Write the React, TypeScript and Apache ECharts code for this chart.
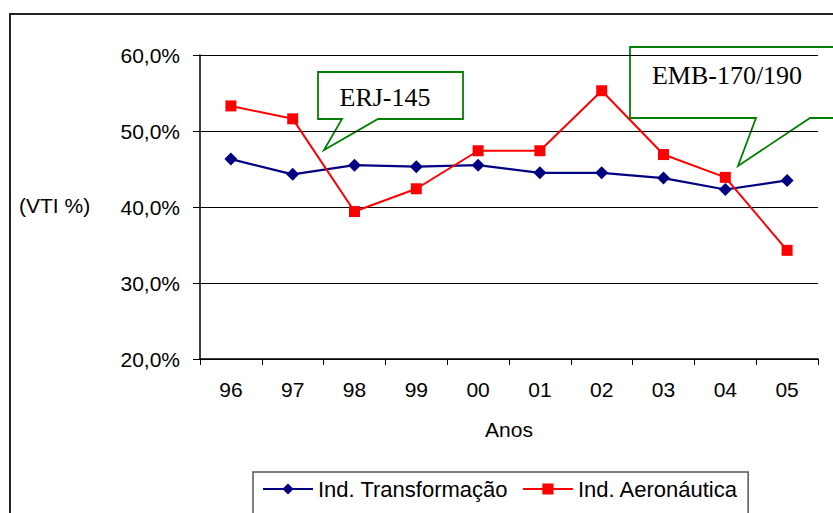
import React, { useEffect, useRef } from "react";
import * as echarts from "echarts";

const categories = ["96", "97", "98", "99", "00", "01", "02", "03", "04", "05"];
const indTransformacao = [46.3, 44.3, 45.5, 45.3, 45.5, 44.5, 44.5, 43.8, 42.3, 43.5];
const indAeronautica = [53.3, 51.6, 39.4, 42.4, 47.4, 47.4, 55.3, 46.9, 43.9, 34.3];
const seriesNames = ["Ind. Transformação", "Ind. Aeronáutica"];
const calloutLabels = ["ERJ-145", "EMB-170/190"];

export default function App() {
  const ref = useRef<HTMLDivElement>(null);
  useEffect(() => {
    document.body.style.margin = "0";
    if (!ref.current) return;
    const chart = echarts.init(ref.current, undefined, { renderer: "svg" });
    const sans = "Liberation Sans, Arial, sans-serif";
    const serif = "Liberation Serif, Times New Roman, serif";
    const green = "#008000";
    chart.setOption({
      animation: false,
      backgroundColor: "#ffffff",
      grid: { left: 200, right: 15, top: 55, bottom: 154, containLabel: false },
      xAxis: {
        type: "category",
        data: categories,
        boundaryGap: true,
        name: "Anos",
        nameLocation: "middle",
        nameGap: 60,
        nameTextStyle: { fontFamily: sans, fontSize: 21, color: "#000" },
        axisLine: { lineStyle: { color: "#000", width: 1.5 } },
        axisTick: { show: true, alignWithLabel: false, length: 6, lineStyle: { color: "#000" } },
        axisLabel: { fontFamily: sans, fontSize: 21, color: "#000", margin: 20 },
      },
      yAxis: {
        type: "value",
        min: 20,
        max: 60,
        interval: 10,
        axisLine: { show: true, lineStyle: { color: "#000", width: 1.5 } },
        axisTick: { show: true, length: 7, lineStyle: { color: "#000" } },
        axisLabel: {
          fontFamily: sans,
          fontSize: 21,
          color: "#000",
          margin: 20,
          formatter: (v: number) => v.toFixed(1).replace(".", ",") + "%",
        },
        splitLine: { show: true, lineStyle: { color: "#000", width: 1.2 } },
      },
      legend: {
        left: 253,
        top: 472,
        padding: [6, 10, 20, 9],
        itemWidth: 50,
        itemHeight: 14,
        itemGap: 14,
        borderColor: "#555",
        borderWidth: 1.5,
        textStyle: { fontFamily: sans, fontSize: 22, color: "#000" },
        data: seriesNames,
      },
      series: [
        {
          name: seriesNames[0],
          type: "line",
          data: indTransformacao,
          symbol: "diamond",
          symbolSize: 13,
          lineStyle: { color: "#000080", width: 2.2 },
          itemStyle: { color: "#000080" },
        },
        {
          name: seriesNames[1],
          type: "line",
          data: indAeronautica,
          symbol: "rect",
          symbolSize: 11,
          lineStyle: { color: "#ff0000", width: 2 },
          itemStyle: { color: "#ff0000" },
        },
      ],
      graphic: [
        {
          type: "rect",
          shape: { x: 10, y: 14, width: 840, height: 520 },
          style: { fill: "none", stroke: "#222", lineWidth: 2 },
          silent: true,
        },
        {
          type: "text",
          left: 19,
          top: 195,
          style: { text: "(VTI %)", font: `21px ${sans}`, fill: "#000" },
        },
        {
          type: "polygon",
          shape: {
            points: [
              [318, 72], [463, 72], [463, 119], [378, 119], [324, 150], [342, 119], [318, 119],
            ],
          },
          style: { fill: "none", stroke: green, lineWidth: 1.8 },
        },
        {
          type: "text",
          x: 385,
          y: 97,
          style: {
            text: calloutLabels[0],
            font: `26px ${serif}`,
            fill: "#000",
            align: "center",
            verticalAlign: "middle",
          },
        },
        {
          type: "polygon",
          shape: {
            points: [
              [630, 47], [860, 47], [860, 118], [810, 118], [738, 166], [756, 118], [630, 118],
            ],
          },
          style: { fill: "none", stroke: green, lineWidth: 1.8 },
        },
        {
          type: "text",
          x: 727,
          y: 75,
          style: {
            text: calloutLabels[1],
            font: `26px ${serif}`,
            fill: "#000",
            align: "center",
            verticalAlign: "middle",
          },
        },
      ],
    });
    return () => chart.dispose();
  }, []);
  return <div ref={ref} style={{ width: 833, height: 513 }} />;
}
